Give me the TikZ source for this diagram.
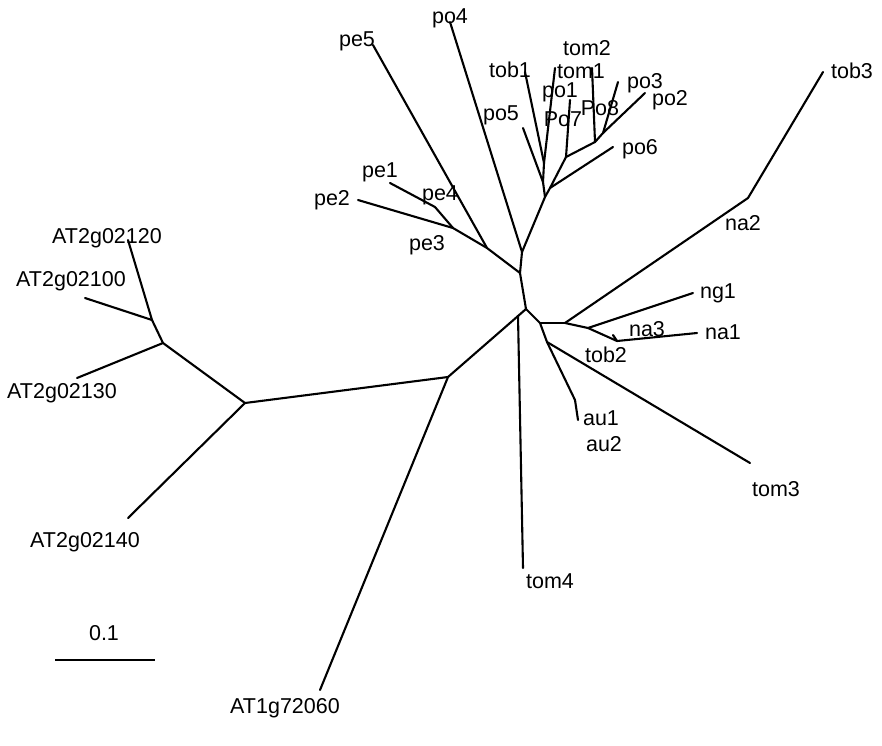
\documentclass[tikz,border=0pt]{standalone}
\usepackage{fontspec}
\setmainfont{Liberation Sans}
\begin{document}
\begin{tikzpicture}[x=1pt,y=-1pt,
  branch/.style={line width=2.1pt,line cap=round,line join=round},
  lab/.style={anchor=base,inner sep=0pt,font=\fontsize{21.5}{24}\selectfont}]
\useasboundingbox (0,0) rectangle (882,745);
% internal nodes
\coordinate (A) at (526,309);
\coordinate (B) at (518,316);
\coordinate (D) at (540,323);
\coordinate (G) at (520,273);
\coordinate (H) at (522,252);
\coordinate (R) at (487,248);
\coordinate (S) at (453,228);
\coordinate (T) at (435,207);
\coordinate (Y) at (448,377);
\coordinate (Z) at (245,403);
\coordinate (BB) at (163,343);
\coordinate (AA) at (152,320);
\coordinate (U) at (565,323);
\coordinate (V) at (588,328);
\coordinate (W) at (617,341);
\coordinate (X) at (547,342);
\coordinate (AU) at (575,400);
\coordinate (N) at (545,197);
\coordinate (Q) at (543,182);
\coordinate (P) at (544,163);
\coordinate (N2) at (550,188);
\coordinate (M) at (566,157);
\coordinate (K) at (595,142);
\coordinate (L) at (603,133);
\coordinate (NA) at (748,198);
% tips
\coordinate (tpo4) at (450,22);
\coordinate (tpe5) at (373,45);
\coordinate (tpe1) at (390,183);
\coordinate (tpe2) at (358,200);
\coordinate (tpo5) at (523,128);
\coordinate (ttob1) at (525,72);
\coordinate (ttom1) at (555,68);
\coordinate (tpo7) at (570,100);
\coordinate (ttom2) at (592,68);
\coordinate (tpo3) at (618,82);
\coordinate (tpo2) at (645,93);
\coordinate (tpo6) at (613,147);
\coordinate (ttob3) at (823,72);
\coordinate (tng1) at (693,293);
\coordinate (tna1) at (697,333);
\coordinate (tna3) at (613,335);
\coordinate (tau) at (578,420);
\coordinate (ttom3) at (750,463);
\coordinate (ttom4) at (523,568);
\coordinate (tat1) at (320,690);
\coordinate (tat140) at (128,518);
\coordinate (tat130) at (77,378);
\coordinate (tat100) at (85,298);
\coordinate (tat120) at (128,240);
\coordinate (sba) at (55,660);
\coordinate (sbb) at (155,660);
% branches
\foreach \a/\b in {H/tpo4,H/N,N/Q,Q/P,Q/tpo5,P/ttob1,P/ttom1,N/N2,N2/tpo6,N2/M,M/tpo7,M/K,K/ttom2,K/L,L/tpo3,L/tpo2,
  G/H,G/R,R/tpe5,R/S,S/tpe2,S/T,T/tpe1,
  A/G,A/B,A/D,B/Y,B/ttom4,Y/Z,Y/tat1,Z/BB,BB/AA,BB/tat130,AA/tat120,AA/tat100,Z/tat140,
  D/U,U/NA,NA/ttob3,U/V,V/tng1,V/W,W/tna1,W/tna3,D/X,X/ttom3,X/AU,AU/tau}
  \draw[branch] (\a) -- (\b);
\draw[branch,line cap=butt] (sba) -- (sbb);
% labels
\node[lab] (ltom2) at (587,55) {tom2};
\node[lab] (ltom1) at (581,78) {tom1};
\node[lab] (ltob1) at (510,77) {tob1};
\node[lab] (lpo1) at (560,97) {po1};
\node[lab] (lpo3) at (645,88) {po3};
\node[lab] (lpo2) at (670,105) {po2};
\node[lab] (lpo7) at (563,126) {Po7};
\node[lab] (lpo8) at (600,115) {Po8};
\node[lab] (lpo6) at (640,154) {po6};
\node[lab] (lpo5) at (501,120) {po5};
\node[lab] (lpo4) at (450,23) {po4};
\node[lab] (lpe5) at (357,46) {pe5};
\node[lab] (lpe1) at (380,177) {pe1};
\node[lab] (lpe4) at (440,200) {pe4};
\node[lab] (lpe2) at (332,205) {pe2};
\node[lab] (lpe3) at (427,250) {pe3};
\node[lab] (ltob3) at (852,78) {tob3};
\node[lab] (lna2) at (743,230) {na2};
\node[lab] (lng1) at (718,298) {ng1};
\node[lab] (lna3) at (647,336) {na3};
\node[lab] (lna1) at (723,339) {na1};
\node[lab] (ltob2) at (606,362) {tob2};
\node[lab] (lau1) at (601,425) {au1};
\node[lab] (lau2) at (604,451) {au2};
\node[lab] (ltom3) at (776,496) {tom3};
\node[lab] (ltom4) at (550,588) {tom4};
\node[lab] (lat120) at (107,243) {AT2g02120};
\node[lab] (lat100) at (71,286) {AT2g02100};
\node[lab] (lat130) at (62,398) {AT2g02130};
\node[lab] (lat140) at (85,547) {AT2g02140};
\node[lab] (lat1) at (285,713) {AT1g72060};
\node[lab] (lscale) at (104,640) {0.1};
\end{tikzpicture}
\end{document}
